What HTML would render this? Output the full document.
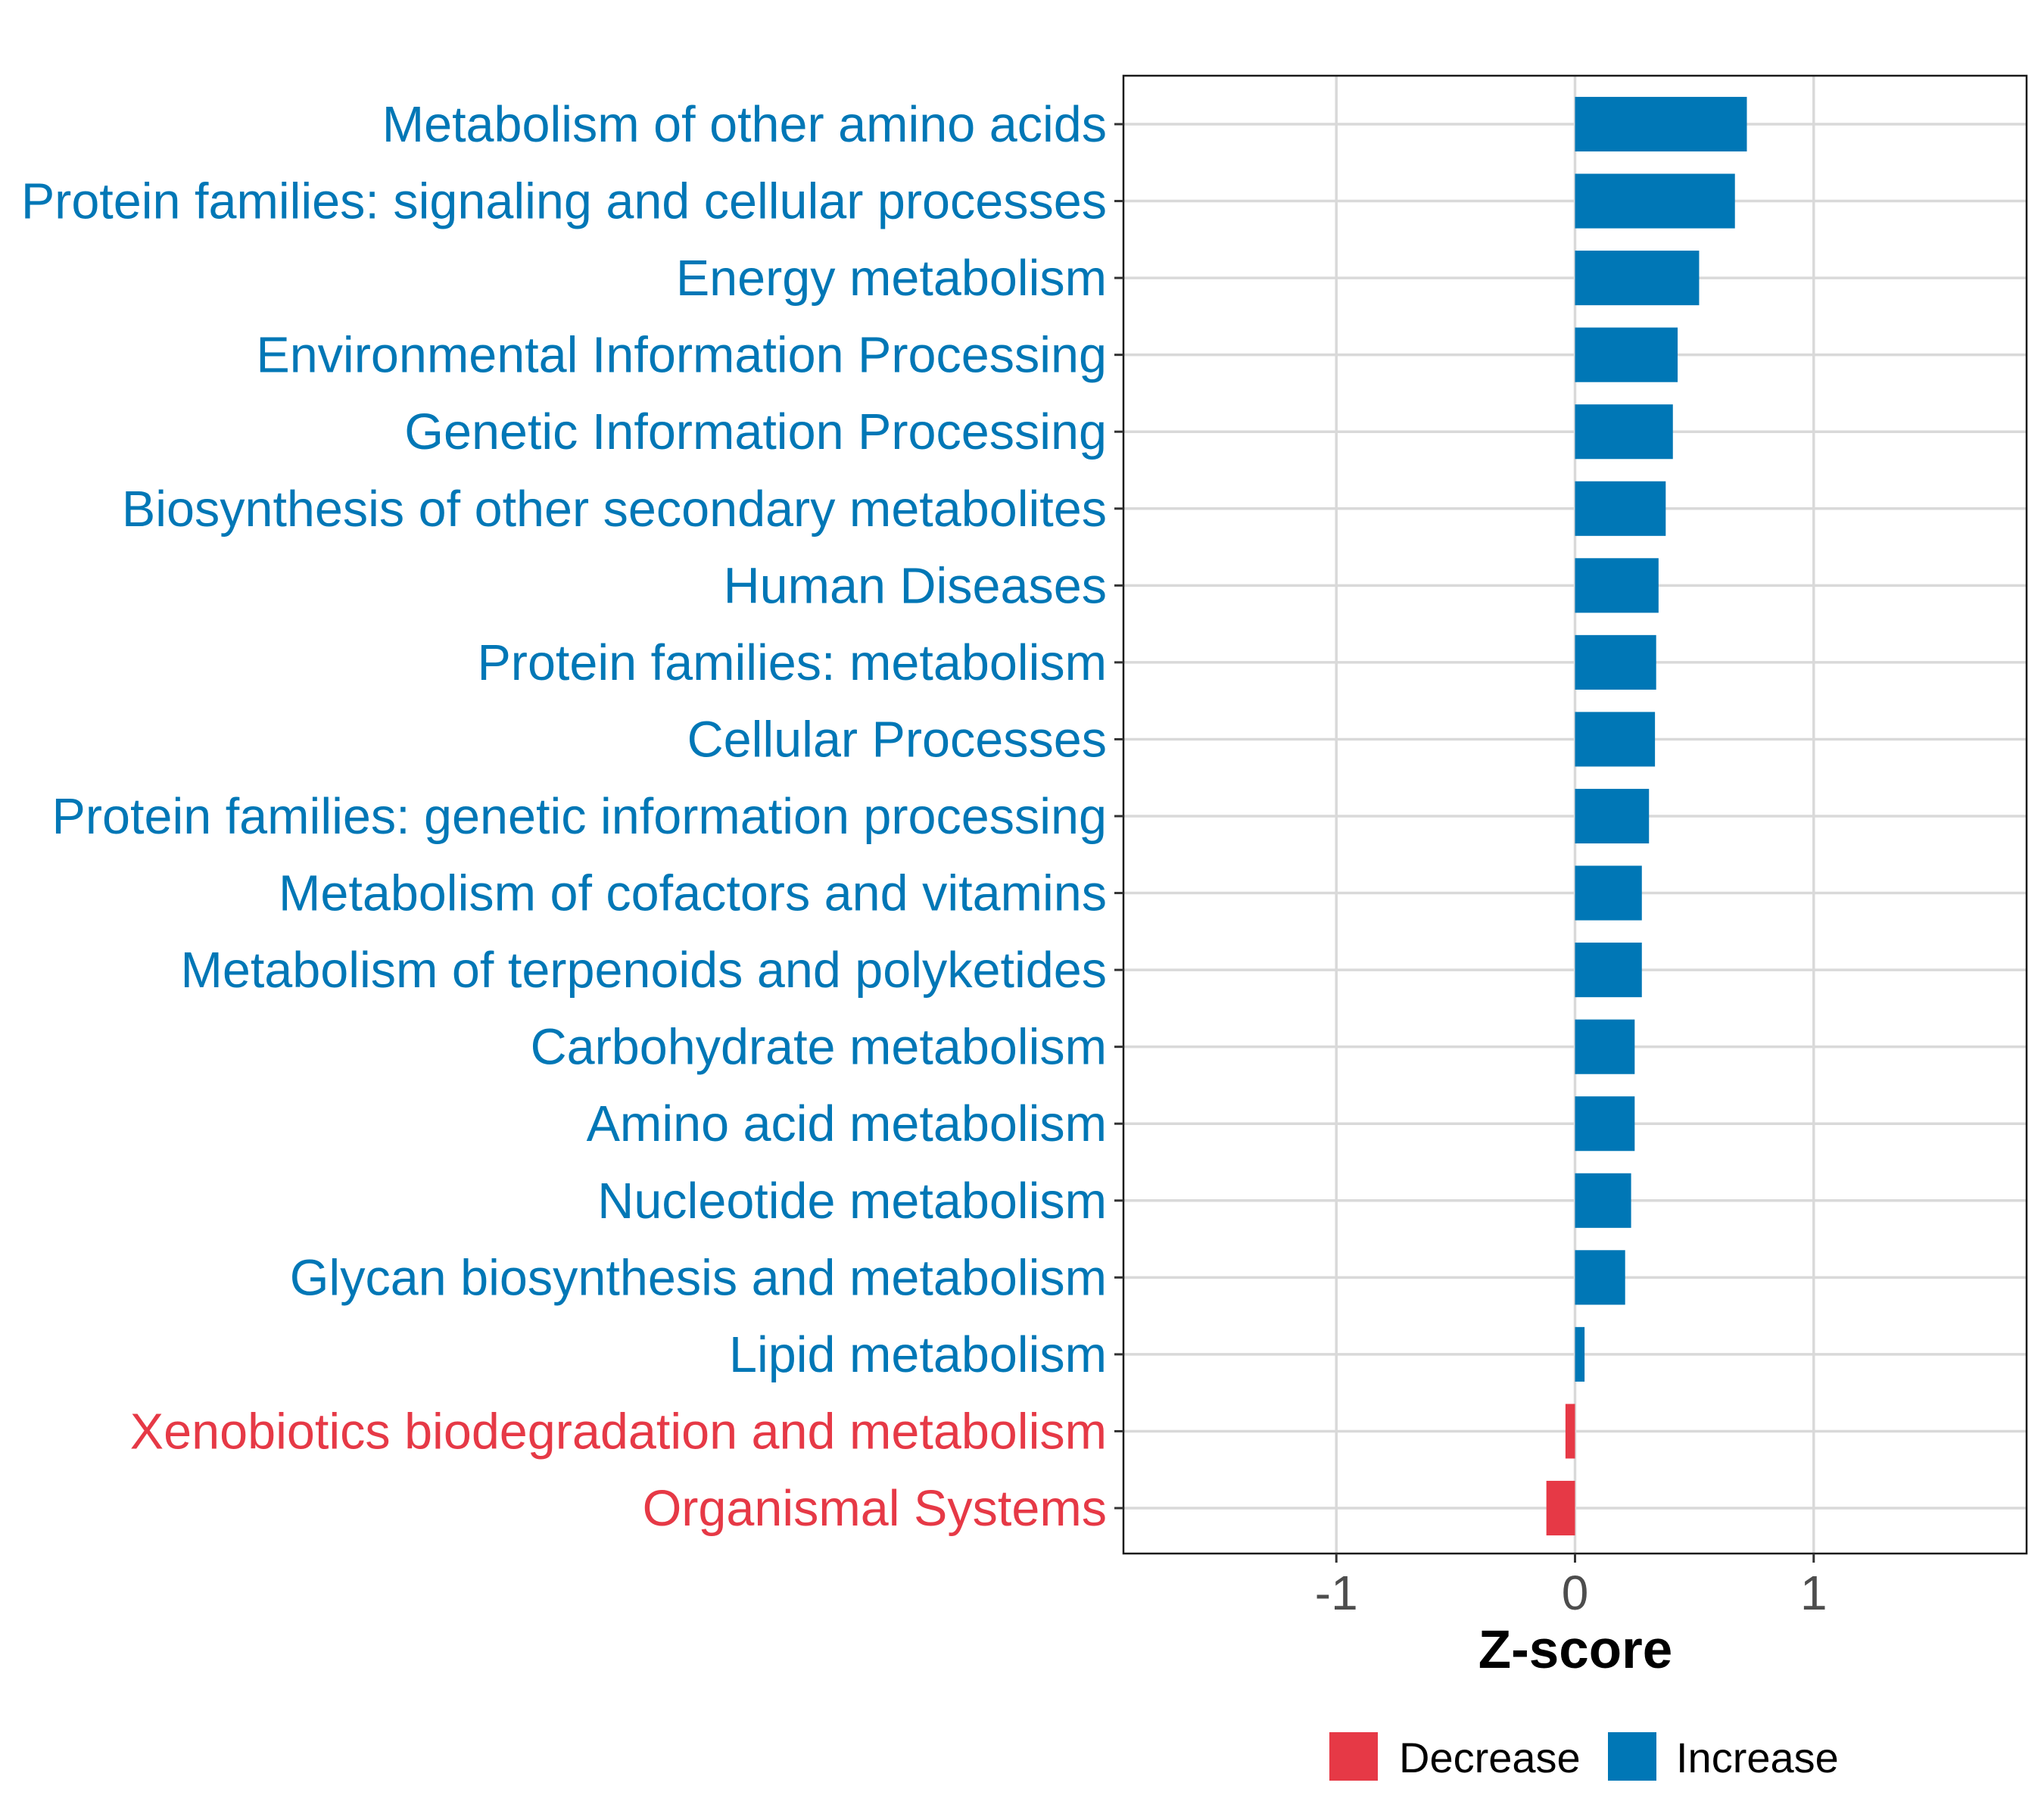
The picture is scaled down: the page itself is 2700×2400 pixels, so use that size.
<!DOCTYPE html>
<html><head><meta charset="utf-8"><style>
html,body{margin:0;padding:0;background:#fff;}
svg{display:block;font-family:"Liberation Sans",Arial,sans-serif;}
</style></head><body>
<svg id="chart" width="2700" height="2400" viewBox="0 0 2700 2400" xmlns="http://www.w3.org/2000/svg">
<rect x="0" y="0" width="2700" height="2400" fill="#fff"/>
<g id="grid"></g>
<g id="bars"></g>
<rect x="1484" y="100" width="1193" height="1952" fill="none" stroke="#1a1a1a" stroke-width="2.5"/>
<g id="ylabels"></g>
<g id="xticks"></g>
<text x="2081" y="2203" text-anchor="middle" font-size="71" font-weight="bold" fill="#000">Z-score</text>
<g>
<rect x="1756" y="2288" width="64" height="64" fill="#E63946"/>
<text x="1848" y="2341" font-size="56" fill="#000">Decrease</text>
<rect x="2124" y="2288" width="64" height="64" fill="#0077B6"/>
<text x="2214" y="2341" font-size="56" fill="#000">Increase</text>
</g>
</svg>
<script>
const categories = ["Metabolism of other amino acids","Protein families: signaling and cellular processes","Energy metabolism","Environmental Information Processing","Genetic Information Processing","Biosynthesis of other secondary metabolites","Human Diseases","Protein families: metabolism","Cellular Processes","Protein families: genetic information processing","Metabolism of cofactors and vitamins","Metabolism of terpenoids and polyketides","Carbohydrate metabolism","Amino acid metabolism","Nucleotide metabolism","Glycan biosynthesis and metabolism","Lipid metabolism","Xenobiotics biodegradation and metabolism","Organismal Systems"];
const zscores = [0.72,0.67,0.52,0.43,0.41,0.38,0.35,0.34,0.335,0.31,0.28,0.28,0.25,0.25,0.235,0.21,0.04,-0.04,-0.12];
const xTicks = [-1,0,1];
const xTickLabels = ["-1","0","1"];

const NS = "http://www.w3.org/2000/svg";
const PX0 = 1484, PX1 = 2677, PY0 = 100, PY1 = 2052;
const XMIN = -1.892, XMAX = 1.892;
const xScale = v => PX0 + (v - XMIN) / (XMAX - XMIN) * (PX1 - PX0);
const FIRST = 164, LAST = 1992;
const step = (LAST - FIRST) / (categories.length - 1);
const yScale = i => FIRST + step * i;
const BLUE = "#0077B6", RED = "#E63946";
function mk(tag, attrs, parent){const e=document.createElementNS(NS,tag);for(const k in attrs)e.setAttribute(k,attrs[k]);parent.appendChild(e);return e;}
const grid = document.getElementById("grid"), bars = document.getElementById("bars"), yl = document.getElementById("ylabels"), xt = document.getElementById("xticks");
xTicks.forEach((t,i)=>{
  const x = xScale(t);
  const g = mk("line",{x1:x,x2:x,y1:PY0,y2:PY1,stroke:"#d9d9d9","stroke-width":3.5},grid);
  
  
  const tk = mk("line",{x1:x,x2:x,y1:PY1,y2:PY1+12,stroke:"#333","stroke-width":3},xt);
  
  
  const tl = mk("text",{x:x,y:PY1+74,"text-anchor":"middle","font-size":64,fill:"#4d4d4d"},xt);
  tl.textContent = xTickLabels[i];
  
  
});
categories.forEach((c,i)=>{
  const y = yScale(i);
  const g = mk("line",{x1:PX0,x2:PX1,y1:y,y2:y,stroke:"#d9d9d9","stroke-width":3.5},grid);
  
  
  const v = zscores[i];
  const x0 = xScale(0), x1 = xScale(v);
  const bh = step * 0.71;
  const r = mk("rect",{x:Math.min(x0,x1),y:y-bh/2,width:Math.abs(x1-x0),height:bh,fill:v<0?RED:BLUE},bars);
  
  
  const tk = mk("line",{x1:PX0-12,x2:PX0,y1:y,y2:y,stroke:"#333","stroke-width":3},yl);
  
  
  const t = mk("text",{x:PX0-22,y:y+23,"text-anchor":"end","font-size":66.5,fill:v<0?RED:BLUE},yl);
  t.textContent = c;
  
  
});
</script>
</body></html>
